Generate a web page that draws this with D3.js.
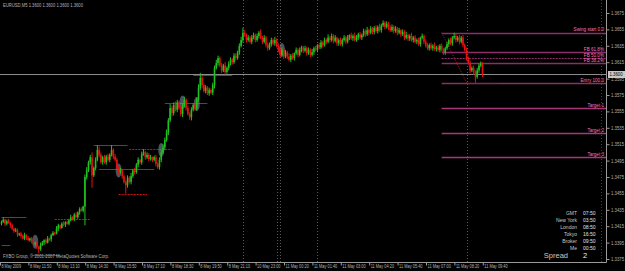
<!DOCTYPE html>
<html>
<head>
<meta charset="utf-8">
<script src="https://cdn.jsdelivr.net/npm/d3@7"></script>
<style>
body{margin:0;background:#000;overflow:hidden}
text{font-family:"Liberation Sans",Arial,sans-serif}
</style>
</head>
<body>
<div id="chart"></div>
<script>
// EURUSD M5, quotes written as pips above 1.3000, open = previous close
const firstOpen = 418
const closes = [
420,423,418,421,419,416,412,409,410,405,
406,403,400,404,401,398,400,397,393,395,
390,387,392,395,398,395,400,399,404,407,
406,412,416,413,418,417,420,418,422,426,
424,429,426,432,436,434,439,475,483,493,
499,477,486,496,508,502,493,499,493,500,
496,502,508,500,496,487,481,483,476,469,
465,474,469,476,483,481,490,496,493,503,
505,499,502,497,499,496,499,491,487,496,
505,511,520,529,544,559,553,563,557,566,
559,552,562,569,559,552,548,557,563,559,
569,584,596,587,580,584,577,581,578,587,
608,614,620,611,605,611,603,608,613,618,
615,623,620,627,635,642,651,648,642,645,
640,645,648,642,647,651,645,640,645,636,
632,637,642,638,642,635,630,624,630,622,
627,622,618,623,620,626,630,624,630,633,
629,632,626,630,624,627,632,630,636,633,
639,636,642,640,645,642,647,641,645,638,
642,637,642,645,640,645,648,644,647,642,
645,649,645,648,653,649,654,651,656,652,
657,653,658,654,660,663,658,662,657,654,
658,653,656,651,654,649,652,645,648,644,
647,642,645,640,642,637,645,647,640,635,
632,636,632,635,631,633,630,635,630,627,
632,637,642,638,645,647,642,645,640,645,
636,630,620,614,605,608,603,597,605,611,
613,600]
const wickUp = [
2,3,1,2,3,1,2,1,3,2, 1,2,2,3,1,2,1,2,3,1, 2,1,3,2,1,2,3,1,2,2, 1,3,2,1,2,3,1,2,2,3,
1,2,3,1,2,2,1,3,4,2, 3,6,2,3,6,4,3,2,3,2, 3,2,6,2,3,2,1,3,2,2, 2,3,2,4,2,3,2,3,1,3,
4,2,3,2,3,1,2,3,2,3, 3,4,3,4,3,5,3,3,4,3, 2,3,3,4,2,3,2,3,2,3, 3,4,6,3,2,3,2,3,2,3,
3,4,3,2,3,2,4,2,3,3, 2,3,3,2,3,4,6,3,2,3, 2,3,3,2,3,2,4,2,3,2, 3,2,3,2,4,2,3,2,3,2,
3,2,4,2,3,1,3,2,3,2, 2,3,2,3,2,4,2,3,1,3, 3,2,3,2,4,2,3,2,3,1, 2,3,2,3,2,3,1,3,2,4,
3,2,3,2,3,2,4,2,3,2, 2,3,2,4,2,3,2,3,2,3, 3,2,3,2,3,1,3,2,4,2, 2,4,2,3,2,3,1,3,2,3,
3,2,3,2,4,2,3,2,3,2, 2,3,2,3,2,4,3,2,3,2, 3,2,3,2,3,2,3,2,3,2, 3,2]
const wickDn = [
2,1,3,2,1,3,2,2,1,3, 2,3,1,2,3,1,2,3,1,2, 3,5,2,1,3,2,1,2,3,1, 2,1,3,2,1,2,3,1,2,1,
2,3,1,2,3,1,2,23,3,2, 3,15,2,3,2,3,2,3,2,3, 2,3,2,3,2,3,3,2,3,2, 10,3,2,3,2,3,2,3,2,3,
2,3,2,3,2,3,2,3,2,3, 3,2,3,2,3,2,4,3,2,3, 2,3,4,2,3,2,3,4,2,3, 3,2,3,4,2,3,2,3,2,3,
4,2,3,2,3,2,3,2,3,2, 3,2,3,2,3,2,3,2,3,2, 2,3,2,3,2,3,2,3,2,3, 3,2,3,2,3,2,3,4,2,3,
2,3,2,3,2,3,2,3,2,3, 3,2,3,2,3,2,3,2,3,2, 2,3,2,3,2,3,2,3,2,3, 3,2,3,2,3,2,3,2,3,2,
2,3,2,3,2,3,2,3,2,3, 3,2,3,2,3,2,3,2,3,2, 2,3,2,3,2,3,2,3,2,3, 3,2,3,2,3,2,3,2,3,2,
2,3,2,3,2,3,2,3,2,3, 3,2,3,2,3,2,3,2,3,2, 3,2,3,2,3,2,3,7,2,3, 2,3]

const timeLabels = ['8 May 2009','8 May 11:50','8 May 13:10','8 May 14:30','8 May 15:50','8 May 17:10',
  '8 May 18:30','8 May 19:50','8 May 21:10','10 May 23:00','11 May 00:20','11 May 01:40',
  '11 May 03:00','11 May 04:20','11 May 05:40','11 May 07:00','11 May 08:20','11 May 09:40']
const priceTicks = [1.3375,1.3395,1.3415,1.3435,1.3455,1.3475,1.3495,1.3515,
  1.3535,1.3555,1.3575,1.3595,1.3615,1.3635,1.3655,1.3675]
const bid = 1.3600

const fibNames = ['Swing start 0.0','FB 61.8%','FB 50.0%','FB 38.2%','Entry 100.0','Target 1','Target 2','Target 3']
const fibPrices = [1.3651,1.3627,1.3620,1.3614,1.3590,1.3559,1.3529,1.3499]
const fibFrom = 248, fibTo = 262

// support / resistance marks: from bar, to bar, price, dashed
const srLevels = [
  [0,14,1.3426,0],[0,5,1.3392,0],[17,33,1.3380,0],[30,50,1.3424,1],
  [52,71,1.3514,0],[55,86,1.3485,0],[66,82,1.3454,1],[72,96,1.3509,1],
  [92,116,1.3565,0],[108,130,1.3599,0]]
const patternMarks = [[19,1.3396],[66,1.3483],[90,1.3508],[102,1.3566],[110,1.3564],[158,1.3630]]
const separators = [136,155,157,178,262]

const sessionNames = ['GMT','New York','London','Tokyo','Broker','Me']
const sessionTimes = ['07:50','03:50','08:50','16:50','09:50','00:50']
const spread = 2

const width = 625, height = 271
const plotW = 606, plotH = 262
const small = 4.6

let prev = firstOpen
const candles = closes.map(function(c, i){
	let o = prev
	prev = c
	return {i: i, o: 1.3 + o/10000, c: 1.3 + c/10000,
		h: 1.3 + (Math.max(o,c) + wickUp[i])/10000,
		l: 1.3 + (Math.min(o,c) - wickDn[i])/10000}
})

const x = d3.scaleLinear().domain([0, 340]).range([1.5, 1.5 + 340*1.775])
const y = d3.scaleLinear().domain([1.3375, 1.3675]).range([259, 13])

const svg = d3.select('#chart').append('svg')
	.attr('width', width).attr('height', height)
	.style('background', '#000')

// period separators
svg.selectAll('.sep').data(separators).enter().append('line')
	.attr('x1', d => Math.round(x(d)) + 0.5).attr('x2', d => Math.round(x(d)) + 0.5)
	.attr('y1', 0).attr('y2', plotH)
	.attr('stroke', '#5a5a5a').attr('stroke-dasharray', '1,2')

svg.append('line')
	.attr('x1', 601.5).attr('x2', 601.5).attr('y1', 0).attr('y2', plotH)
	.attr('stroke', '#444').attr('stroke-dasharray', '1,2')

// bid line
svg.append('line')
	.attr('x1', 0).attr('x2', plotW).attr('y1', Math.round(y(bid)) + 0.5).attr('y2', Math.round(y(bid)) + 0.5)
	.attr('stroke', '#8c8c8c')

// support / resistance
svg.selectAll('.sr').data(srLevels).enter().append('line')
	.attr('x1', d => x(d[0])).attr('x2', d => x(d[1]))
	.attr('y1', d => Math.round(y(d[2])) + 0.5).attr('y2', d => Math.round(y(d[2])) + 0.5)
	.attr('stroke', '#c81414')
	.attr('stroke-dasharray', d => d[3] ? '2,1' : null)

// fibonacci levels
const fib = fibNames.map((n, k) => ({name: n, price: fibPrices[k]}))
svg.selectAll('.fib').data(fib).enter().append('line')
	.attr('x1', x(fibFrom)).attr('x2', plotW)
	.attr('y1', d => Math.round(y(d.price)) + 0.5).attr('y2', d => Math.round(y(d.price)) + 0.5)
	.attr('stroke', (d, k) => k >= 5 ? '#a8387a' : '#8e2e68')
	.attr('stroke-width', (d, k) => k == 2 ? 1 : 1.4)
	.attr('stroke-dasharray', (d, k) => k == 2 ? '2,1' : null)

svg.append('line')
	.attr('x1', x(fibFrom)).attr('y1', y(fibPrices[0]))
	.attr('x2', x(fibTo)).attr('y2', y(fibPrices[4]))
	.attr('stroke', '#c81414').attr('stroke-dasharray', '1,1.5')
svg.append('line')
	.attr('x1', x(fibTo)).attr('x2', x(fibTo + 18))
	.attr('y1', Math.round(y(fibPrices[4])) + 0.5).attr('y2', Math.round(y(fibPrices[4])) + 0.5)
	.attr('stroke', '#c81414')

svg.selectAll('.fibLabel').data(fib).enter().append('text')
	.attr('x', plotW - 2).attr('y', d => y(d.price) - 1.2)
	.attr('text-anchor', 'end')
	.attr('font-size', small)
	.attr('fill', '#ff72b6')
	.text(d => d.name)

// pattern marks
svg.selectAll('.mark').data(patternMarks).enter().append('ellipse')
	.attr('cx', d => x(d[0])).attr('cy', d => y(d[1]))
	.attr('rx', 3).attr('ry', 7)
	.attr('fill', '#7d98a8').attr('opacity', 0.55)

// candles
const g = svg.selectAll('.candle').data(candles).enter().append('g')
g.append('rect')
	.attr('x', d => x(d.i) - 0.5).attr('width', 1)
	.attr('y', d => y(d.h)).attr('height', d => Math.max(1, y(d.l) - y(d.h)))
	.attr('fill', d => d.c >= d.o ? '#1fc21f' : '#e51212')
g.append('rect')
	.attr('x', d => x(d.i) - 0.8).attr('width', 1.6)
	.attr('y', d => y(Math.max(d.o, d.c))).attr('height', d => Math.max(1, Math.abs(y(d.o) - y(d.c))))
	.attr('fill', d => d.c >= d.o ? '#1fc21f' : '#e51212')

// frame
svg.append('path')
	.attr('d', 'M' + (plotW + 0.5) + ',0V' + (plotH + 0.5) + 'H0')
	.attr('fill', 'none').attr('stroke', '#9a9a9a')

// axes
const xAxis = svg.append('g')
	.attr('transform', `translate(0,${plotH + 0.5})`)
	.call(d3.axisBottom(x).tickValues(timeLabels.map((t, k) => k*16)).tickSize(3).tickFormat((d, k) => timeLabels[k]))
xAxis.select('.domain').remove()
xAxis.selectAll('line').attr('stroke', '#9a9a9a').attr('transform', 'translate(-1.5,0)')
xAxis.selectAll('text')
	.attr('fill', '#b4b4b4').attr('font-size', small)
	.attr('text-anchor', 'start').attr('x', -0.5).attr('y', 2.5).attr('dy', '0.71em')
	.attr('textLength', (d, k) => timeLabels[k].length * 1.95)
	.attr('lengthAdjust', 'spacingAndGlyphs')

const yAxis = svg.append('g')
	.attr('transform', `translate(${plotW + 0.5},0)`)
	.call(d3.axisRight(y).tickValues(priceTicks).tickSize(3).tickFormat(d3.format('.4f')))
yAxis.select('.domain').remove()
yAxis.selectAll('line').attr('stroke', '#9a9a9a')
yAxis.selectAll('text').attr('fill', '#b4b4b4').attr('font-size', small).attr('x', 4.5)
	.attr('textLength', 13).attr('lengthAdjust', 'spacingAndGlyphs')

// bid price box
svg.append('rect')
	.attr('x', plotW + 2).attr('y', y(bid) - 3.5).attr('width', 17).attr('height', 7)
	.attr('fill', '#c8c8c8')
svg.append('text')
	.attr('x', plotW + 3.5).attr('y', y(bid)).attr('dy', '0.35em')
	.attr('font-size', small).attr('fill', '#000')
	.attr('textLength', 13).attr('lengthAdjust', 'spacingAndGlyphs')
	.text(d3.format('.4f')(bid))

// corner texts
svg.append('text').attr('x', 3).attr('y', 7).attr('font-size', small).attr('fill', '#b4b4b4')
	.attr('textLength', 80).attr('lengthAdjust', 'spacingAndGlyphs')
	.text('EURUSD,M5  ' + [bid, bid, bid, bid].map(d3.format('.4f')).join(' '))
svg.append('text').attr('x', 3).attr('y', 258).attr('font-size', small).attr('fill', '#b4b4b4')
	.attr('textLength', 106).attr('lengthAdjust', 'spacingAndGlyphs')
	.text('FXBO Group, \u00a9 2001-2007 MetaQuotes Software Corp.')

// session clock
svg.selectAll('.sname').data(sessionNames).enter().append('text')
	.attr('x', 577).attr('y', (d, k) => 215 + k*7)
	.attr('text-anchor', 'end').attr('font-size', 5).attr('fill', '#c8c8c8')
	.text(d => d)
svg.selectAll('.stime').data(sessionTimes).enter().append('text')
	.attr('x', 583).attr('y', (d, k) => 215 + k*7)
	.attr('font-size', 5).attr('fill', '#e0e0e0')
	.text(d => d)
svg.append('text').attr('x', 568).attr('y', 258).attr('text-anchor', 'end')
	.attr('font-size', 7.5).attr('fill', '#c8c8c8').text('Spread')
svg.append('text').attr('x', 583).attr('y', 258)
	.attr('font-size', 7.5).attr('fill', '#f0f0f0').text(spread)
</script>
</body>
</html>
